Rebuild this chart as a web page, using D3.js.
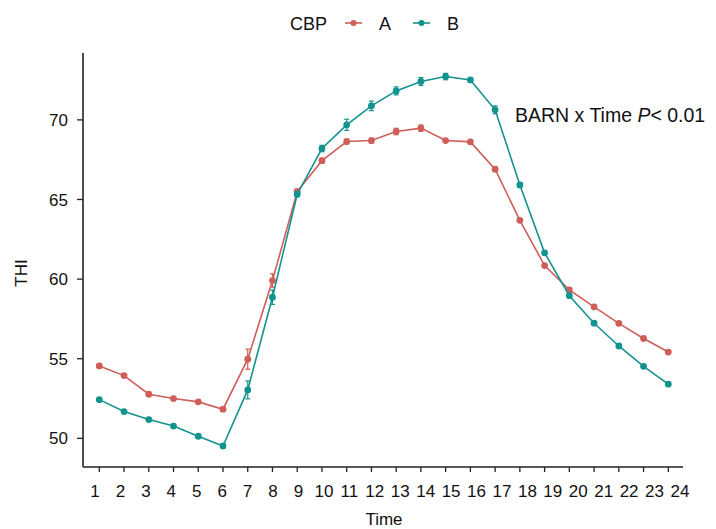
<!DOCTYPE html>
<html>
<head>
<meta charset="utf-8">
<script src="https://cdn.jsdelivr.net/npm/d3@7"></script>
<style>
  body { margin: 0; background: #fff; }
  text { font-family: "Liberation Sans", Arial, sans-serif; fill: #111; }
</style>
</head>
<body>
<script>
var width = 716;
var height = 529;

// data
var times = [1,2,3,4,5,6,7,8,9,10,11,12,13,14,15,16,17,18,19,20,21,22,23,24];
var seriesNames = ["A", "B"];
var valuesA = [54.55,53.94,52.77,52.50,52.29,51.83,54.97,59.91,65.50,67.44,68.64,68.70,69.27,69.48,68.70,68.62,66.90,63.69,60.85,59.32,58.26,57.22,56.27,55.42];
var valuesB = [52.43,51.68,51.18,50.77,50.13,49.52,53.04,58.86,65.33,68.20,69.69,70.88,71.82,72.41,72.72,72.51,70.63,65.91,61.65,58.96,57.23,55.80,54.52,53.40];
var errA = [0.1,0.1,0.1,0.1,0.1,0.1,0.63,0.42,0.15,0.15,0.15,0.15,0.2,0.2,0.1,0.1,0.1,0.1,0.1,0.1,0.1,0.1,0.1,0.1];
var errB = [0.1,0.1,0.1,0.1,0.1,0.1,0.56,0.45,0.15,0.2,0.35,0.3,0.25,0.25,0.2,0.12,0.25,0.15,0.1,0.1,0.1,0.1,0.1,0.1];
var yTicks = [50,55,60,65,70];
var colors = {A: "#cf5e58", B: "#13938e"};

var svg = d3.select("body").append("svg").attr("width", width).attr("height", height);

var x = d3.scaleLinear().domain([1,24]).range([99.3,668.3]);
// tick labels in the figure are spread a bit wider than the tick marks
var xLab = d3.scaleLinear().domain([1,24]).range([95,680]);
var y = d3.scaleLinear().domain([48.2,74.2]).range([467,53]);

// axes
svg.append("line").attr("x1",83).attr("x2",83).attr("y1",53).attr("y2",467)
  .attr("stroke","#222").attr("stroke-width",1.6);
svg.append("line").attr("x1",83).attr("x2",683).attr("y1",467).attr("y2",467)
  .attr("stroke","#222").attr("stroke-width",1.6);

svg.selectAll(".ytick").data(yTicks).enter().append("line")
  .attr("x1",77).attr("x2",83)
  .attr("y1",function(d){return y(d);}).attr("y2",function(d){return y(d);})
  .attr("stroke","#222").attr("stroke-width",1.3);
svg.selectAll(".ylab").data(yTicks).enter().append("text")
  .attr("x",68).attr("y",function(d){return y(d);}).attr("dy","0.36em")
  .attr("text-anchor","end").style("font-size","17px")
  .text(function(d){return d;});

svg.selectAll(".xtick").data(times).enter().append("line")
  .attr("x1",function(d){return x(d);}).attr("x2",function(d){return x(d);})
  .attr("y1",467).attr("y2",472)
  .attr("stroke","#222").attr("stroke-width",1.3);
svg.selectAll(".xlab").data(times).enter().append("text")
  .attr("x",function(d){return xLab(d);}).attr("y",497)
  .attr("text-anchor","middle").style("font-size","17px")
  .text(function(d){return d;});

svg.append("text").attr("x",384).attr("y",525).attr("text-anchor","middle")
  .style("font-size","17px").text("Time");
svg.append("text").attr("transform","translate(27,273) rotate(-90)")
  .attr("text-anchor","middle").style("font-size","17px").text("THI");

// series
var series = [
  {name: "A", values: valuesA, err: errA},
  {name: "B", values: valuesB, err: errB}
];

var line = d3.line()
  .x(function(d,i){return x(times[i]);})
  .y(function(d){return y(d);});

series.forEach(function(s){
  var g = svg.append("g");
  var c = colors[s.name];
  g.append("path").attr("d", line(s.values))
    .attr("fill","none").attr("stroke",c).attr("stroke-width",1.6);
  var eb = g.selectAll(".eb").data(s.values).enter().append("g");
  eb.append("line")
    .attr("x1",function(d,i){return x(times[i]);}).attr("x2",function(d,i){return x(times[i]);})
    .attr("y1",function(d,i){return y(d - s.err[i]);}).attr("y2",function(d,i){return y(d + s.err[i]);})
    .attr("stroke",c).attr("stroke-width",1.2);
  eb.append("line")
    .attr("x1",function(d,i){return x(times[i])-2.5;}).attr("x2",function(d,i){return x(times[i])+2.5;})
    .attr("y1",function(d,i){return y(d + s.err[i]);}).attr("y2",function(d,i){return y(d + s.err[i]);})
    .attr("stroke",c).attr("stroke-width",1.2);
  eb.append("line")
    .attr("x1",function(d,i){return x(times[i])-2.5;}).attr("x2",function(d,i){return x(times[i])+2.5;})
    .attr("y1",function(d,i){return y(d - s.err[i]);}).attr("y2",function(d,i){return y(d - s.err[i]);})
    .attr("stroke",c).attr("stroke-width",1.2);
  g.selectAll("circle").data(s.values).enter().append("circle")
    .attr("cx",function(d,i){return x(times[i]);})
    .attr("cy",function(d){return y(d);})
    .attr("r",3.4).attr("fill",c);
});

// legend
var leg = svg.append("g");
leg.append("text").attr("x",290).attr("y",30).style("font-size","18px").text("CBP");
var legX = {A: 345, B: 413};
seriesNames.forEach(function(n){
  var lx = legX[n];
  leg.append("line").attr("x1",lx).attr("x2",lx+17).attr("y1",23).attr("y2",23)
    .attr("stroke",colors[n]).attr("stroke-width",1.6);
  leg.append("circle").attr("cx",lx+8.5).attr("cy",23).attr("r",3).attr("fill",colors[n]);
  leg.append("text").attr("x",lx+34).attr("y",30).style("font-size","18px").text(n);
});

// annotation
var ann = svg.append("text").attr("x",515).attr("y",122).style("font-size","19.5px");
ann.append("tspan").text("BARN x Time ");
ann.append("tspan").style("font-style","italic").text("P");
ann.append("tspan").text("< 0.01");
</script>
</body>
</html>
